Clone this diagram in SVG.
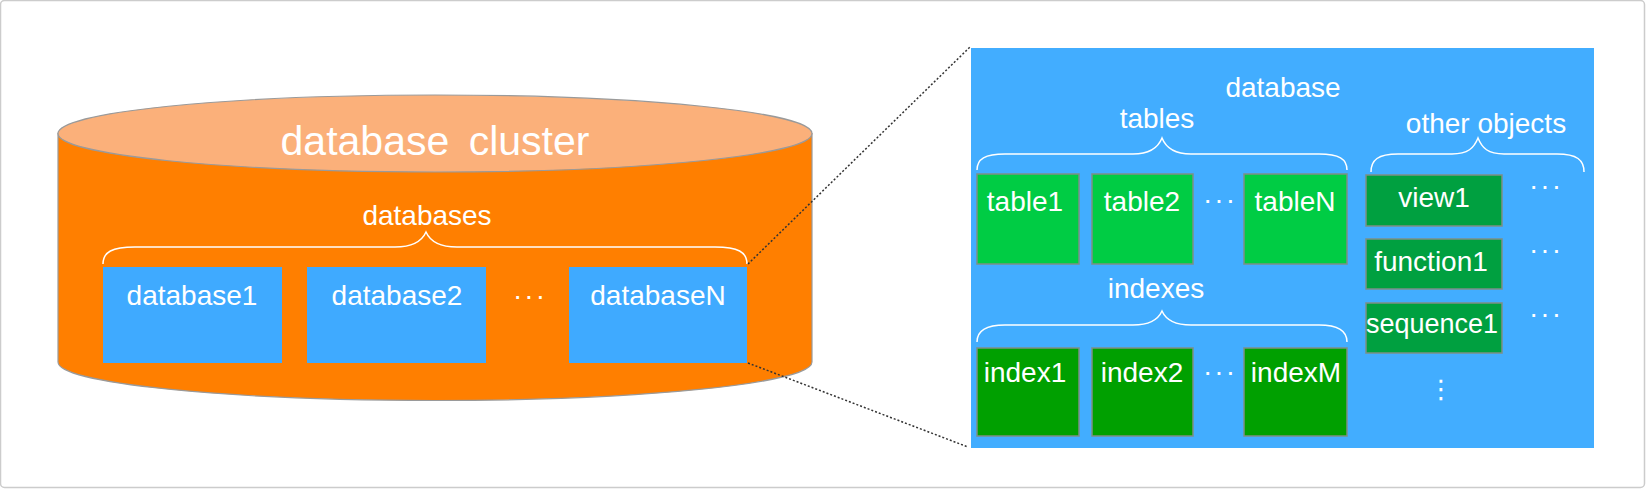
<svg xmlns="http://www.w3.org/2000/svg" width="1647" height="492" viewBox="0 0 1647 492">
<style>
text{font-family:"Liberation Sans",Arial,sans-serif;fill:#ffffff;text-anchor:middle;font-size:28px}
.big{font-size:41px;word-spacing:8px}
.dots{letter-spacing:2px}
.brace{fill:none;stroke:#ffffff;stroke-width:1.5}
.db{fill:#3FAAFF}
.tbl{fill:#00CC44;stroke:#7d8f86;stroke-width:1.5}
.idx{fill:#00A000;stroke:#7d8f86;stroke-width:1.5}
.obj{fill:#00A040;stroke:#7d8f86;stroke-width:1.5}
.conn{fill:none;stroke:#333333;stroke-width:1.5;stroke-dasharray:2 2}
</style>
<rect x="0.5" y="0.5" width="1644" height="487" rx="4" fill="#ffffff" stroke="#cccccc" stroke-width="1.5"/>
<g id="cluster">
<path d="M58,133.5 L58,362 A377,38.5 0 0 0 812,362 L812,133.5 Z" fill="#FF7F00" stroke="#9a9a9a" stroke-width="1.2"/>
<ellipse cx="435" cy="133.5" rx="377" ry="38.5" fill="#FBB07A" stroke="#9a9a9a" stroke-width="1.2"/>
<text class="big" x="435" y="155">database cluster</text>
<text x="427" y="225">databases</text>
<path class="brace" d="M103,264 C103,252 112,247 135,247 L395,247 C413,247 422,241 426,232 C430,241 439,247 457,247 L715,247 C738,247 747,252 747,264"/>
<text class="dots" x="530" y="305">···</text>
</g>
<g id="database1"><rect class="db" x="103" y="267" width="179" height="96"/><text x="192" y="305">database1</text></g>
<g id="database2"><rect class="db" x="307" y="267" width="179" height="96"/><text x="397" y="305">database2</text></g>
<g id="databaseN"><rect class="db" x="569" y="267" width="178" height="96"/><text x="658" y="305">databaseN</text></g>
<g id="connectors">
<path class="conn" d="M748,264 L970,47"/>
<path class="conn" d="M748,363 L968,447"/>
</g>
<g id="database">
<rect x="971" y="48" width="623" height="400" fill="#42ADFF"/>
<text x="1283" y="97">database</text>
<text x="1157" y="128">tables</text>
<text x="1486" y="133">other objects</text>
<path class="brace" d="M977,170 C977,159 985,154 1005,154 L1133,154 C1150,154 1158,148 1162,138 C1166,148 1174,154 1191,154 L1319,154 C1339,154 1347,159 1347,170"/>
<path class="brace" d="M1371,172 C1371,160 1378,154 1398,154 L1452,154 C1468,154 1474,148 1478,138 C1482,148 1488,154 1504,154 L1557,154 C1577,154 1584,160 1584,172"/>
<text x="1156" y="298">indexes</text>
<path class="brace" d="M977,342 C977,331 985,325 1005,325 L1133,325 C1150,325 1158,320 1162,311 C1166,320 1174,325 1191,325 L1319,325 C1339,325 1347,331 1347,342"/>
<text class="dots" x="1220" y="209">···</text>
<text class="dots" x="1220" y="381">···</text>
<text class="dots" x="1546" y="195">···</text>
<text class="dots" x="1546" y="259">···</text>
<text class="dots" x="1546" y="323">···</text>
<text x="1441" y="398" style="font-family:'DejaVu Sans',sans-serif;font-size:26px">⋮</text>
</g>
<g id="table1"><rect class="tbl" x="977" y="174" width="102" height="90"/><text x="1025" y="211">table1</text></g>
<g id="table2"><rect class="tbl" x="1092" y="174" width="101" height="90"/><text x="1142" y="211">table2</text></g>
<g id="tableN"><rect class="tbl" x="1244" y="174" width="103" height="90"/><text x="1295" y="211">tableN</text></g>
<g id="index1"><rect class="idx" x="977" y="348" width="102" height="88"/><text x="1025" y="382">index1</text></g>
<g id="index2"><rect class="idx" x="1092" y="348" width="101" height="88"/><text x="1142" y="382">index2</text></g>
<g id="indexM"><rect class="idx" x="1244" y="348" width="103" height="88"/><text x="1296" y="382">indexM</text></g>
<g id="view1"><rect class="obj" x="1366" y="175" width="136" height="51"/><text x="1434" y="207">view1</text></g>
<g id="function1"><rect class="obj" x="1366" y="239" width="136" height="50"/><text x="1431" y="271">function1</text></g>
<g id="sequence1"><rect class="obj" x="1366" y="303" width="136" height="50"/><text x="1432" y="333" textLength="132" lengthAdjust="spacingAndGlyphs">sequence1</text></g>
</svg>
